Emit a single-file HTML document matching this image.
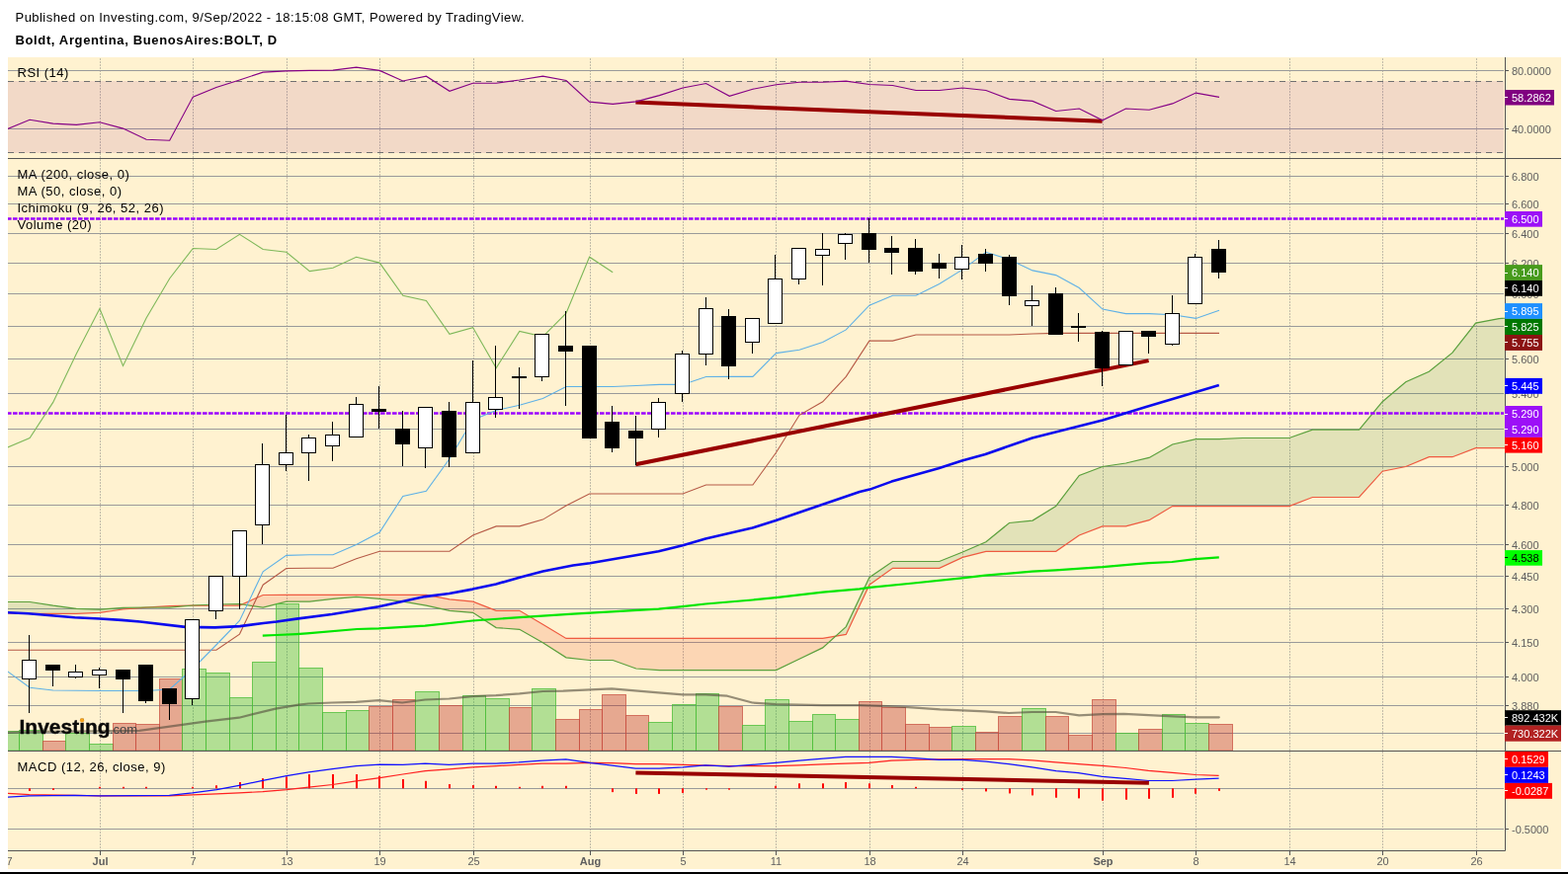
<!DOCTYPE html><html><head><meta charset="utf-8"><title>Boldt, Argentina, BuenosAires:BOLT, D</title>
<style>html,body{margin:0;padding:0;background:#fff;}body{width:1587px;height:885px;overflow:hidden;position:relative;font-family:"Liberation Sans", Arial, sans-serif;}.hdr{position:absolute;left:16px;font-size:13px;color:#000;white-space:nowrap;}svg{position:absolute;left:0;top:0;}</style></head><body>
<svg width="1587" height="885" viewBox="0 0 1587 885" font-family='"Liberation Sans", Arial, sans-serif'>
<defs><clipPath id="cp"><rect x="8" y="58" width="1515" height="803"/></clipPath><clipPath id="cpr"><rect x="8" y="58" width="1515" height="102"/></clipPath><clipPath id="cpp"><rect x="8" y="160" width="1515" height="600"/></clipPath><clipPath id="cpm"><rect x="8" y="760" width="1515" height="101"/></clipPath></defs>
<text x="15.5" y="22" font-size="13" letter-spacing="0.46" fill="#000">Published on Investing.com, 9/Sep/2022 - 18:15:08 GMT, Powered by TradingView.</text>
<text x="15.5" y="45" font-size="13" font-weight="bold" letter-spacing="0.63" fill="#000">Boldt, Argentina, BuenosAires:BOLT, D</text>
<rect x="8" y="58" width="1572" height="822" fill="#fff2d0"/>
<rect x="0" y="883" width="1587" height="2" fill="#000"/>
<path d="M101.5 59V861 M195.5 59V861 M290.5 59V861 M384.5 59V861 M479.5 59V861 M597.5 59V861 M691.5 59V861 M785.5 59V861 M880.5 59V861 M974.5 59V861 M1116.5 59V861 M1210.5 59V861 M1305.5 59V861 M1399.5 59V861 M1494.5 59V861" stroke="rgba(120,120,120,0.45)" stroke-width="1" stroke-dasharray="2 1" fill="none"/>
<path d="M8 71.5H1522 M8 130.5H1522 M8 178.5H1522 M8 206.5H1522 M8 236.5H1522 M8 266.5H1522 M8 297.5H1522 M8 330.5H1522 M8 363.5H1522 M8 398.5H1522 M8 434.5H1522 M8 472.5H1522 M8 511.5H1522 M8 551.5H1522 M8 583.5H1522 M8 616.5H1522 M8 650.5H1522 M8 685.5H1522 M8 714.5H1522 M8 742.5H1522 M8 798.5H1522 M8 839.5H1522" stroke="#9a9a9a" stroke-width="1" fill="none"/>
<rect x="8" y="82" width="1514" height="73" fill="rgba(128,0,128,0.1)"/>
<path d="M8 82.5H1522 M8 154.5H1522" stroke="#707070" stroke-width="1" stroke-dasharray="6 5" fill="none"/>
<g clip-path="url(#cpp)">
<polygon points="6.5,609.5 30.1,609.5 53.7,613.2 77.3,616.3 100.9,617.2 124.5,615.3 148.1,615.0 149.5,615.0 149.5,615.0 148.1,615.1 124.5,617.0 100.9,620.3 77.3,621.3 53.7,621.3 30.1,621.3 6.5,621.0" fill="rgba(62,135,48,0.15)"/>
<polygon points="149.5,615.0 171.7,615.2 193.9,613.1 193.9,613.1 171.7,613.6 149.5,615.0" fill="rgba(235,55,21,0.15)"/>
<polygon points="193.9,613.1 195.3,613.0 218.9,612.0 242.5,611.5 245.2,611.9 245.2,611.9 242.5,613.1 218.9,613.1 195.3,613.1 193.9,613.1" fill="rgba(62,135,48,0.15)"/>
<polygon points="245.2,611.9 266.2,615.2 289.8,609.2 313.4,609.2 337.0,606.4 360.6,604.4 384.2,606.4 407.8,609.2 431.4,613.2 455.0,618.3 478.6,620.3 502.2,635.6 525.8,637.3 549.4,650.8 573.0,665.8 596.6,668.5 620.2,668.5 643.8,677.0 667.4,678.6 691.0,678.6 714.6,678.6 738.3,678.6 761.9,678.6 785.5,678.6 809.1,667.3 832.7,655.9 845.6,644.2 845.6,644.2 832.7,646.4 809.1,646.4 785.5,646.4 761.9,646.4 738.3,646.4 714.6,646.4 691.0,646.4 667.4,646.4 643.8,646.4 620.2,646.4 596.6,646.4 573.0,646.4 549.4,632.2 525.8,618.3 502.2,618.3 478.6,609.2 455.0,606.8 431.4,602.4 407.8,602.4 384.2,602.4 360.6,602.4 337.0,602.4 313.4,602.4 289.8,602.4 266.2,602.5 245.2,611.9" fill="rgba(235,55,21,0.15)"/>
<polygon points="845.6,644.2 856.3,634.6 879.9,584.7 903.5,568.5 927.1,568.5 950.7,568.5 974.3,559.0 997.9,548.8 1021.5,529.5 1045.1,527.1 1068.7,512.5 1092.3,481.4 1115.9,472.5 1139.5,469.0 1163.1,463.4 1186.7,450.0 1210.4,444.6 1234.0,444.6 1257.6,443.5 1281.2,443.5 1304.8,443.5 1328.4,435.2 1352.0,435.2 1375.6,435.2 1399.2,406.7 1422.8,386.8 1446.4,376.3 1470.0,357.1 1493.6,327.1 1517.2,322.6 1540.8,320.5 1540.8,453.7 1517.2,453.7 1493.6,453.7 1470.0,462.7 1446.4,462.7 1422.8,472.5 1399.2,477.2 1375.6,503.5 1352.0,503.5 1328.4,503.5 1304.8,512.6 1281.2,512.6 1257.6,512.6 1234.0,512.6 1210.4,512.6 1186.7,512.6 1163.1,526.7 1139.5,532.9 1115.9,532.9 1092.3,542.0 1068.7,558.3 1045.1,558.3 1021.5,558.3 997.9,558.3 974.3,564.4 950.7,575.3 927.1,575.3 903.5,575.3 879.9,592.2 856.3,642.4 845.6,644.2" fill="rgba(62,135,48,0.15)"/>
<polyline points="6.5,621.0 30.1,621.3 53.7,621.3 77.3,621.3 100.9,620.3 124.5,617.0 148.1,615.1 171.7,613.6 195.3,613.1 218.9,613.1 242.5,613.1 266.2,602.5 289.8,602.4 313.4,602.4 337.0,602.4 360.6,602.4 384.2,602.4 407.8,602.4 431.4,602.4 455.0,606.8 478.6,609.2 502.2,618.3 525.8,618.3 549.4,632.2 573.0,646.4 596.6,646.4 620.2,646.4 643.8,646.4 667.4,646.4 691.0,646.4 714.6,646.4 738.3,646.4 761.9,646.4 785.5,646.4 809.1,646.4 832.7,646.4 856.3,642.4 879.9,592.2 903.5,575.3 927.1,575.3 950.7,575.3 974.3,564.4 997.9,558.3 1021.5,558.3 1045.1,558.3 1068.7,558.3 1092.3,542.0 1115.9,532.9 1139.5,532.9 1163.1,526.7 1186.7,512.6 1210.4,512.6 1234.0,512.6 1257.6,512.6 1281.2,512.6 1304.8,512.6 1328.4,503.5 1352.0,503.5 1375.6,503.5 1399.2,477.2 1422.8,472.5 1446.4,462.7 1470.0,462.7 1493.6,453.7 1517.2,453.7 1540.8,453.7" fill="none" stroke="#ef5a40" stroke-width="1.2"/>
<polyline points="6.5,609.5 30.1,609.5 53.7,613.2 77.3,616.3 100.9,617.2 124.5,615.3 148.1,615.0 171.7,615.2 195.3,613.0 218.9,612.0 242.5,611.5 266.2,615.2 289.8,609.2 313.4,609.2 337.0,606.4 360.6,604.4 384.2,606.4 407.8,609.2 431.4,613.2 455.0,618.3 478.6,620.3 502.2,635.6 525.8,637.3 549.4,650.8 573.0,665.8 596.6,668.5 620.2,668.5 643.8,677.0 667.4,678.6 691.0,678.6 714.6,678.6 738.3,678.6 761.9,678.6 785.5,678.6 809.1,667.3 832.7,655.9 856.3,634.6 879.9,584.7 903.5,568.5 927.1,568.5 950.7,568.5 974.3,559.0 997.9,548.8 1021.5,529.5 1045.1,527.1 1068.7,512.5 1092.3,481.4 1115.9,472.5 1139.5,469.0 1163.1,463.4 1186.7,450.0 1210.4,444.6 1234.0,444.6 1257.6,443.5 1281.2,443.5 1304.8,443.5 1328.4,435.2 1352.0,435.2 1375.6,435.2 1399.2,406.7 1422.8,386.8 1446.4,376.3 1470.0,357.1 1493.6,327.1 1517.2,322.6 1540.8,320.5" fill="none" stroke="#5aa03c" stroke-width="1.2"/>
</g>
<g clip-path="url(#cpp)">
<rect x="-4.5" y="740.5" width="24.0" height="19.5" fill="rgba(35,188,37,0.35)" stroke="rgba(80,190,60,0.8)" stroke-width="1"/>
<rect x="19.5" y="739.5" width="24.0" height="20.5" fill="rgba(35,188,37,0.35)" stroke="rgba(80,190,60,0.8)" stroke-width="1"/>
<rect x="43.5" y="750.5" width="23.0" height="9.5" fill="rgba(184,31,25,0.35)" stroke="rgba(200,80,65,0.75)" stroke-width="1"/>
<rect x="66.5" y="742.5" width="24.0" height="17.5" fill="rgba(35,188,37,0.35)" stroke="rgba(80,190,60,0.8)" stroke-width="1"/>
<rect x="90.5" y="753.5" width="24.0" height="6.5" fill="rgba(35,188,37,0.35)" stroke="rgba(80,190,60,0.8)" stroke-width="1"/>
<rect x="114.5" y="732.5" width="23.0" height="27.5" fill="rgba(184,31,25,0.35)" stroke="rgba(200,80,65,0.75)" stroke-width="1"/>
<rect x="137.5" y="733.5" width="24.0" height="26.5" fill="rgba(184,31,25,0.35)" stroke="rgba(200,80,65,0.75)" stroke-width="1"/>
<rect x="161.5" y="687.5" width="23.0" height="72.5" fill="rgba(184,31,25,0.35)" stroke="rgba(200,80,65,0.75)" stroke-width="1"/>
<rect x="184.5" y="677.5" width="24.0" height="82.5" fill="rgba(35,188,37,0.35)" stroke="rgba(80,190,60,0.8)" stroke-width="1"/>
<rect x="208.5" y="681.5" width="24.0" height="78.5" fill="rgba(35,188,37,0.35)" stroke="rgba(80,190,60,0.8)" stroke-width="1"/>
<rect x="232.5" y="706.5" width="23.0" height="53.5" fill="rgba(35,188,37,0.35)" stroke="rgba(80,190,60,0.8)" stroke-width="1"/>
<rect x="255.5" y="670.5" width="24.0" height="89.5" fill="rgba(35,188,37,0.35)" stroke="rgba(80,190,60,0.8)" stroke-width="1"/>
<rect x="279.5" y="611.5" width="23.0" height="148.5" fill="rgba(35,188,37,0.35)" stroke="rgba(80,190,60,0.8)" stroke-width="1"/>
<rect x="302.5" y="676.5" width="24.0" height="83.5" fill="rgba(35,188,37,0.35)" stroke="rgba(80,190,60,0.8)" stroke-width="1"/>
<rect x="326.5" y="721.5" width="24.0" height="38.5" fill="rgba(35,188,37,0.35)" stroke="rgba(80,190,60,0.8)" stroke-width="1"/>
<rect x="350.5" y="719.5" width="23.0" height="40.5" fill="rgba(35,188,37,0.35)" stroke="rgba(80,190,60,0.8)" stroke-width="1"/>
<rect x="373.5" y="715.5" width="24.0" height="44.5" fill="rgba(184,31,25,0.35)" stroke="rgba(200,80,65,0.75)" stroke-width="1"/>
<rect x="397.5" y="708.5" width="23.0" height="51.5" fill="rgba(184,31,25,0.35)" stroke="rgba(200,80,65,0.75)" stroke-width="1"/>
<rect x="420.5" y="700.5" width="24.0" height="59.5" fill="rgba(35,188,37,0.35)" stroke="rgba(80,190,60,0.8)" stroke-width="1"/>
<rect x="444.5" y="714.5" width="24.0" height="45.5" fill="rgba(184,31,25,0.35)" stroke="rgba(200,80,65,0.75)" stroke-width="1"/>
<rect x="468.5" y="704.5" width="23.0" height="55.5" fill="rgba(35,188,37,0.35)" stroke="rgba(80,190,60,0.8)" stroke-width="1"/>
<rect x="491.5" y="707.5" width="24.0" height="52.5" fill="rgba(35,188,37,0.35)" stroke="rgba(80,190,60,0.8)" stroke-width="1"/>
<rect x="515.5" y="716.5" width="23.0" height="43.5" fill="rgba(184,31,25,0.35)" stroke="rgba(200,80,65,0.75)" stroke-width="1"/>
<rect x="538.5" y="697.5" width="24.0" height="62.5" fill="rgba(35,188,37,0.35)" stroke="rgba(80,190,60,0.8)" stroke-width="1"/>
<rect x="562.5" y="728.5" width="24.0" height="31.5" fill="rgba(184,31,25,0.35)" stroke="rgba(200,80,65,0.75)" stroke-width="1"/>
<rect x="586.5" y="718.5" width="23.0" height="41.5" fill="rgba(184,31,25,0.35)" stroke="rgba(200,80,65,0.75)" stroke-width="1"/>
<rect x="609.5" y="703.5" width="24.0" height="56.5" fill="rgba(184,31,25,0.35)" stroke="rgba(200,80,65,0.75)" stroke-width="1"/>
<rect x="633.5" y="724.5" width="23.0" height="35.5" fill="rgba(184,31,25,0.35)" stroke="rgba(200,80,65,0.75)" stroke-width="1"/>
<rect x="656.5" y="731.5" width="24.0" height="28.5" fill="rgba(35,188,37,0.35)" stroke="rgba(80,190,60,0.8)" stroke-width="1"/>
<rect x="680.5" y="713.5" width="24.0" height="46.5" fill="rgba(35,188,37,0.35)" stroke="rgba(80,190,60,0.8)" stroke-width="1"/>
<rect x="704.5" y="702.5" width="23.0" height="57.5" fill="rgba(35,188,37,0.35)" stroke="rgba(80,190,60,0.8)" stroke-width="1"/>
<rect x="727.5" y="715.5" width="24.0" height="44.5" fill="rgba(184,31,25,0.35)" stroke="rgba(200,80,65,0.75)" stroke-width="1"/>
<rect x="751.5" y="734.5" width="23.0" height="25.5" fill="rgba(35,188,37,0.35)" stroke="rgba(80,190,60,0.8)" stroke-width="1"/>
<rect x="774.5" y="708.5" width="24.0" height="51.5" fill="rgba(35,188,37,0.35)" stroke="rgba(80,190,60,0.8)" stroke-width="1"/>
<rect x="798.5" y="730.5" width="24.0" height="29.5" fill="rgba(35,188,37,0.35)" stroke="rgba(80,190,60,0.8)" stroke-width="1"/>
<rect x="822.5" y="723.5" width="23.0" height="36.5" fill="rgba(35,188,37,0.35)" stroke="rgba(80,190,60,0.8)" stroke-width="1"/>
<rect x="845.5" y="728.5" width="24.0" height="31.5" fill="rgba(35,188,37,0.35)" stroke="rgba(80,190,60,0.8)" stroke-width="1"/>
<rect x="869.5" y="710.5" width="23.0" height="49.5" fill="rgba(184,31,25,0.35)" stroke="rgba(200,80,65,0.75)" stroke-width="1"/>
<rect x="892.5" y="716.5" width="24.0" height="43.5" fill="rgba(184,31,25,0.35)" stroke="rgba(200,80,65,0.75)" stroke-width="1"/>
<rect x="916.5" y="733.5" width="24.0" height="26.5" fill="rgba(184,31,25,0.35)" stroke="rgba(200,80,65,0.75)" stroke-width="1"/>
<rect x="940.5" y="736.5" width="23.0" height="23.5" fill="rgba(184,31,25,0.35)" stroke="rgba(200,80,65,0.75)" stroke-width="1"/>
<rect x="963.5" y="735.5" width="24.0" height="24.5" fill="rgba(35,188,37,0.35)" stroke="rgba(80,190,60,0.8)" stroke-width="1"/>
<rect x="987.5" y="741.5" width="23.0" height="18.5" fill="rgba(184,31,25,0.35)" stroke="rgba(200,80,65,0.75)" stroke-width="1"/>
<rect x="1010.5" y="725.5" width="24.0" height="34.5" fill="rgba(184,31,25,0.35)" stroke="rgba(200,80,65,0.75)" stroke-width="1"/>
<rect x="1034.5" y="717.5" width="24.0" height="42.5" fill="rgba(35,188,37,0.35)" stroke="rgba(80,190,60,0.8)" stroke-width="1"/>
<rect x="1058.5" y="725.5" width="23.0" height="34.5" fill="rgba(184,31,25,0.35)" stroke="rgba(200,80,65,0.75)" stroke-width="1"/>
<rect x="1081.5" y="744.5" width="24.0" height="15.5" fill="rgba(184,31,25,0.35)" stroke="rgba(200,80,65,0.75)" stroke-width="1"/>
<rect x="1105.5" y="708.5" width="24.0" height="51.5" fill="rgba(184,31,25,0.35)" stroke="rgba(200,80,65,0.75)" stroke-width="1"/>
<rect x="1129.5" y="742.5" width="23.0" height="17.5" fill="rgba(35,188,37,0.35)" stroke="rgba(80,190,60,0.8)" stroke-width="1"/>
<rect x="1152.5" y="738.5" width="24.0" height="21.5" fill="rgba(184,31,25,0.35)" stroke="rgba(200,80,65,0.75)" stroke-width="1"/>
<rect x="1176.5" y="723.5" width="23.0" height="36.5" fill="rgba(35,188,37,0.35)" stroke="rgba(80,190,60,0.8)" stroke-width="1"/>
<rect x="1199.5" y="732.5" width="24.0" height="27.5" fill="rgba(35,188,37,0.35)" stroke="rgba(80,190,60,0.8)" stroke-width="1"/>
<rect x="1223.5" y="733.5" width="24.0" height="26.5" fill="rgba(184,31,25,0.35)" stroke="rgba(200,80,65,0.75)" stroke-width="1"/>
<polyline points="6.0,741.9 42.0,740.8 100.0,740.4 141.1,739.8 184.5,733.8 207.7,730.7 241.9,726.7 278.8,717.6 302.4,713.6 312.2,712.5 335.9,711.5 360.3,710.8 383.4,709.2 407.1,711.5 430.2,708.5 454.6,707.5 478.3,705.1 502.0,704.1 525.8,702.4 549.5,700.0 570.0,699.7 619.2,697.3 666.6,701.4 691.0,703.4 714.1,703.4 736.1,704.7 761.5,711.5 785.3,713.2 832.7,714.2 870.0,714.2 892.2,714.9 915.9,715.9 951.5,718.3 997.3,720.3 1021.0,722.0 1044.7,721.0 1068.5,721.0 1092.2,724.4 1116.1,723.1 1137.6,722.9 1162.6,724.2 1187.5,725.4 1210.2,726.3 1233.8,726.3" fill="none" stroke="rgba(80,74,58,0.6)" stroke-width="2.2" stroke-linejoin="round" stroke-linecap="round"/>
</g>
<g clip-path="url(#cpp)"><path d="M7 221.5H1522 M7 418.5H1522" stroke="#9a00ff" stroke-width="2.6" stroke-dasharray="4.6 1.4" fill="none"/></g>
<g clip-path="url(#cpp)">
<polyline points="6.5,453.6 30.1,443.5 53.7,407.4 77.3,358.3 100.9,312.5 124.5,370.5 148.1,322.0 171.7,282.0 195.3,251.5 218.9,252.5 242.5,237.3 266.2,252.5 289.8,255.3 313.4,274.6 337.0,271.2 360.6,260.3 384.2,266.1 407.8,299.3 431.4,304.4 455.0,338.3 478.6,331.6 502.2,372.6 525.8,335.4 549.4,340.8 573.0,317.2 596.6,260.2 620.2,275.8" fill="none" stroke="#7fb85a" stroke-width="1.1"/>
<polyline points="6.5,658.3 30.1,658.3 53.7,658.3 77.3,658.3 100.9,658.3 124.5,658.3 148.1,658.3 171.7,658.3 195.3,658.3 218.9,658.3 242.5,642.1 266.2,592.2 289.8,575.5 313.4,575.3 337.0,575.3 360.6,565.8 384.2,558.3 407.8,558.3 431.4,558.3 455.0,558.3 478.6,542.0 502.2,532.9 525.8,532.9 549.4,526.1 573.0,512.0 596.6,500.0 620.2,500.0 643.8,500.0 667.4,500.0 691.0,500.0 714.6,491.0 738.3,491.0 761.9,491.0 785.5,458.3 809.1,420.3 832.7,406.8 856.3,381.4 879.9,345.1 903.5,345.1 927.1,339.0 950.7,339.0 974.3,339.0 997.9,339.0 1021.5,339.0 1045.1,338.0 1068.7,337.4 1092.3,337.4 1115.9,337.4 1139.5,337.4 1163.1,337.4 1186.7,337.4 1210.4,337.4 1234.0,337.4" fill="none" stroke="#b65a46" stroke-width="1.1"/>
<polyline points="6.5,679.0 30.1,696.3 53.7,699.0 77.3,699.3 100.9,699.5 124.5,699.5 148.1,699.5 171.7,698.0 195.3,677.0 218.9,653.0 242.5,628.5 266.2,578.8 289.8,562.4 313.4,561.7 337.0,561.7 360.6,551.5 384.2,539.0 407.8,502.4 431.4,497.3 455.0,464.5 478.6,425.3 502.2,415.5 525.8,410.2 549.4,403.5 573.0,391.5 596.6,391.5 620.2,391.5 643.8,390.5 667.4,389.4 691.0,389.4 714.6,381.5 738.3,381.4 761.9,381.4 785.5,357.6 809.1,354.2 832.7,346.4 856.3,333.9 879.9,309.2 903.5,299.3 927.1,299.3 950.7,287.5 974.3,272.9 997.9,255.3 1021.5,262.7 1045.1,273.9 1068.7,278.6 1092.3,291.5 1115.9,313.1 1139.5,317.6 1163.1,317.6 1186.7,318.8 1210.4,322.4 1234.0,314.2" fill="none" stroke="#5fb1e6" stroke-width="1.1"/>
<polyline points="265.8,643.6 280.0,643.0 300.0,642.1 310.5,641.4 361.4,637.0 383.4,636.3 430.2,633.6 478.3,628.5 525.8,625.1 580.0,621.7 619.2,619.3 666.6,616.6 691.0,614.2 714.1,611.5 761.5,607.5 785.3,605.1 832.7,599.7 870.0,596.3 880.3,594.9 924.4,590.5 973.6,585.4 997.3,582.7 1044.7,578.6 1068.5,577.3 1115.9,574.2 1150.0,571.2 1162.7,570.1 1186.2,569.0 1209.7,566.1 1233.8,564.3" fill="none" stroke="#00e600" stroke-width="2.2" stroke-linejoin="round"/>
<polyline points="6.0,620.2 28.4,621.3 75.6,625.3 101.1,626.5 122.9,627.9 141.8,629.5 187.5,634.9 217.5,635.4 242.8,634.1 266.6,631.0 280.0,629.5 300.0,626.6 335.9,622.0 383.4,614.2 430.2,604.1 454.6,601.0 478.3,596.6 502.0,591.5 525.8,584.7 549.5,578.6 580.0,572.5 597.1,570.2 666.6,558.3 691.0,552.2 714.1,545.4 761.5,534.6 785.3,527.1 832.7,510.8 870.0,498.0 880.3,495.6 902.4,487.6 949.8,474.2 973.6,466.5 997.3,460.0 1044.7,443.4 1115.9,425.4 1160.0,411.9 1233.8,390.0" fill="none" stroke="#0a0aee" stroke-width="2.6" stroke-linejoin="round"/>
</g>
<line x1="643.3" y1="470.3" x2="1162.6" y2="365.1" stroke="#990000" stroke-width="4"/>
<g shape-rendering="crispEdges">
<rect x="29" y="643" width="1" height="79" fill="#000"/>
<rect x="22" y="668" width="15" height="20" fill="#000"/>
<rect x="23" y="669" width="13" height="18" fill="#fff"/>
<rect x="53" y="673" width="1" height="22" fill="#000"/>
<rect x="46" y="673" width="15" height="6" fill="#000"/>
<rect x="76" y="673" width="1" height="14" fill="#000"/>
<rect x="69" y="680" width="15" height="6" fill="#000"/>
<rect x="70" y="681" width="13" height="4" fill="#fff"/>
<rect x="100" y="676" width="1" height="21" fill="#000"/>
<rect x="93" y="678" width="15" height="6" fill="#000"/>
<rect x="94" y="679" width="13" height="4" fill="#fff"/>
<rect x="124" y="678" width="1" height="44" fill="#000"/>
<rect x="117" y="678" width="15" height="10" fill="#000"/>
<rect x="147" y="673" width="1" height="39" fill="#000"/>
<rect x="140" y="673" width="15" height="37" fill="#000"/>
<rect x="171" y="697" width="1" height="32" fill="#000"/>
<rect x="164" y="697" width="15" height="16" fill="#000"/>
<rect x="194" y="627" width="1" height="87" fill="#000"/>
<rect x="187" y="627" width="15" height="81" fill="#000"/>
<rect x="188" y="628" width="13" height="79" fill="#fff"/>
<rect x="218" y="583" width="1" height="44" fill="#000"/>
<rect x="211" y="583" width="15" height="36" fill="#000"/>
<rect x="212" y="584" width="13" height="34" fill="#fff"/>
<rect x="242" y="537" width="1" height="80" fill="#000"/>
<rect x="235" y="537" width="15" height="47" fill="#000"/>
<rect x="236" y="538" width="13" height="45" fill="#fff"/>
<rect x="265" y="449" width="1" height="102" fill="#000"/>
<rect x="258" y="470" width="15" height="62" fill="#000"/>
<rect x="259" y="471" width="13" height="60" fill="#fff"/>
<rect x="289" y="420" width="1" height="57" fill="#000"/>
<rect x="282" y="458" width="15" height="13" fill="#000"/>
<rect x="283" y="459" width="13" height="11" fill="#fff"/>
<rect x="312" y="440" width="1" height="47" fill="#000"/>
<rect x="305" y="443" width="15" height="16" fill="#000"/>
<rect x="306" y="444" width="13" height="14" fill="#fff"/>
<rect x="336" y="427" width="1" height="40" fill="#000"/>
<rect x="329" y="440" width="15" height="12" fill="#000"/>
<rect x="330" y="441" width="13" height="10" fill="#fff"/>
<rect x="360" y="402" width="1" height="41" fill="#000"/>
<rect x="353" y="409" width="15" height="34" fill="#000"/>
<rect x="354" y="410" width="13" height="32" fill="#fff"/>
<rect x="383" y="391" width="1" height="43" fill="#000"/>
<rect x="376" y="414" width="15" height="3" fill="#000"/>
<rect x="407" y="416" width="1" height="56" fill="#000"/>
<rect x="400" y="434" width="15" height="16" fill="#000"/>
<rect x="430" y="412" width="1" height="62" fill="#000"/>
<rect x="423" y="412" width="15" height="42" fill="#000"/>
<rect x="424" y="413" width="13" height="40" fill="#fff"/>
<rect x="454" y="407" width="1" height="66" fill="#000"/>
<rect x="447" y="416" width="15" height="47" fill="#000"/>
<rect x="478" y="365" width="1" height="94" fill="#000"/>
<rect x="471" y="407" width="15" height="52" fill="#000"/>
<rect x="472" y="408" width="13" height="50" fill="#fff"/>
<rect x="501" y="350" width="1" height="73" fill="#000"/>
<rect x="494" y="402" width="15" height="13" fill="#000"/>
<rect x="495" y="403" width="13" height="11" fill="#fff"/>
<rect x="525" y="372" width="1" height="42" fill="#000"/>
<rect x="518" y="381" width="15" height="2" fill="#000"/>
<rect x="548" y="338" width="1" height="48" fill="#000"/>
<rect x="541" y="338" width="15" height="44" fill="#000"/>
<rect x="542" y="339" width="13" height="42" fill="#fff"/>
<rect x="572" y="315" width="1" height="96" fill="#000"/>
<rect x="565" y="350" width="15" height="6" fill="#000"/>
<rect x="596" y="350" width="1" height="94" fill="#000"/>
<rect x="589" y="350" width="15" height="94" fill="#000"/>
<rect x="619" y="411" width="1" height="47" fill="#000"/>
<rect x="612" y="427" width="15" height="27" fill="#000"/>
<rect x="643" y="421" width="1" height="50" fill="#000"/>
<rect x="636" y="436" width="15" height="8" fill="#000"/>
<rect x="666" y="403" width="1" height="40" fill="#000"/>
<rect x="659" y="407" width="15" height="28" fill="#000"/>
<rect x="660" y="408" width="13" height="26" fill="#fff"/>
<rect x="690" y="355" width="1" height="52" fill="#000"/>
<rect x="683" y="358" width="15" height="41" fill="#000"/>
<rect x="684" y="359" width="13" height="39" fill="#fff"/>
<rect x="714" y="301" width="1" height="69" fill="#000"/>
<rect x="707" y="312" width="15" height="47" fill="#000"/>
<rect x="708" y="313" width="13" height="45" fill="#fff"/>
<rect x="737" y="313" width="1" height="71" fill="#000"/>
<rect x="730" y="320" width="15" height="51" fill="#000"/>
<rect x="761" y="322" width="1" height="36" fill="#000"/>
<rect x="754" y="322" width="15" height="25" fill="#000"/>
<rect x="755" y="323" width="13" height="23" fill="#fff"/>
<rect x="784" y="258" width="1" height="70" fill="#000"/>
<rect x="777" y="282" width="15" height="46" fill="#000"/>
<rect x="778" y="283" width="13" height="44" fill="#fff"/>
<rect x="808" y="251" width="1" height="37" fill="#000"/>
<rect x="801" y="251" width="15" height="32" fill="#000"/>
<rect x="802" y="252" width="13" height="30" fill="#fff"/>
<rect x="832" y="236" width="1" height="53" fill="#000"/>
<rect x="825" y="252" width="15" height="7" fill="#000"/>
<rect x="826" y="253" width="13" height="5" fill="#fff"/>
<rect x="855" y="236" width="1" height="27" fill="#000"/>
<rect x="848" y="237" width="15" height="10" fill="#000"/>
<rect x="849" y="238" width="13" height="8" fill="#fff"/>
<rect x="879" y="221" width="1" height="45" fill="#000"/>
<rect x="872" y="236" width="15" height="17" fill="#000"/>
<rect x="902" y="239" width="1" height="39" fill="#000"/>
<rect x="895" y="251" width="15" height="5" fill="#000"/>
<rect x="926" y="242" width="1" height="36" fill="#000"/>
<rect x="919" y="251" width="15" height="24" fill="#000"/>
<rect x="950" y="257" width="1" height="25" fill="#000"/>
<rect x="943" y="266" width="15" height="6" fill="#000"/>
<rect x="973" y="248" width="1" height="35" fill="#000"/>
<rect x="966" y="260" width="15" height="13" fill="#000"/>
<rect x="967" y="261" width="13" height="11" fill="#fff"/>
<rect x="997" y="252" width="1" height="23" fill="#000"/>
<rect x="990" y="257" width="15" height="10" fill="#000"/>
<rect x="1021" y="258" width="1" height="51" fill="#000"/>
<rect x="1014" y="260" width="15" height="40" fill="#000"/>
<rect x="1044" y="289" width="1" height="41" fill="#000"/>
<rect x="1037" y="304" width="15" height="6" fill="#000"/>
<rect x="1038" y="305" width="13" height="4" fill="#fff"/>
<rect x="1068" y="291" width="1" height="48" fill="#000"/>
<rect x="1061" y="297" width="15" height="42" fill="#000"/>
<rect x="1091" y="317" width="1" height="29" fill="#000"/>
<rect x="1084" y="330" width="15" height="2" fill="#000"/>
<rect x="1115" y="335" width="1" height="56" fill="#000"/>
<rect x="1108" y="336" width="15" height="37" fill="#000"/>
<rect x="1139" y="335" width="1" height="35" fill="#000"/>
<rect x="1132" y="335" width="15" height="35" fill="#000"/>
<rect x="1133" y="336" width="13" height="33" fill="#fff"/>
<rect x="1162" y="335" width="1" height="23" fill="#000"/>
<rect x="1155" y="335" width="15" height="6" fill="#000"/>
<rect x="1186" y="299" width="1" height="51" fill="#000"/>
<rect x="1179" y="317" width="15" height="32" fill="#000"/>
<rect x="1180" y="318" width="13" height="30" fill="#fff"/>
<rect x="1209" y="257" width="1" height="51" fill="#000"/>
<rect x="1202" y="260" width="15" height="48" fill="#000"/>
<rect x="1203" y="261" width="13" height="46" fill="#fff"/>
<rect x="1233" y="243" width="1" height="39" fill="#000"/>
<rect x="1226" y="252" width="15" height="24" fill="#000"/>
</g>
<text x="19.5" y="743" font-size="21" font-weight="bold" fill="#0a0a0a" stroke="#0a0a0a" stroke-width="0.35">Investing</text>
<text x="111" y="743" font-size="13" fill="#444">.com</text>
<circle cx="83.0" cy="729.3" r="2.1" fill="#f7a21b"/>
<line x1="643.4" y1="103.6" x2="1115.6" y2="122.8" stroke="#990000" stroke-width="4"/>
<g clip-path="url(#cpr)">
<polyline points="6.5,130.9 30.1,121.3 53.7,125.1 77.3,126.3 100.9,123.8 124.5,130.1 148.1,141.2 171.7,142.2 195.3,98.1 218.9,88.5 242.5,81.0 266.2,73.1 289.8,71.9 313.4,71.4 337.0,71.1 360.6,68.1 384.2,71.4 407.8,82.0 431.4,77.2 455.0,92.3 478.6,84.2 502.2,84.2 525.8,81.0 549.4,77.2 573.0,81.5 596.6,103.1 620.2,105.4 643.8,102.9 667.4,96.6 691.0,89.0 714.6,84.5 738.3,97.3 761.9,90.3 785.5,85.7 809.1,83.2 832.7,83.2 856.3,82.2 879.9,85.5 903.5,86.5 927.1,91.5 950.7,91.5 974.3,89.0 997.9,91.5 1021.5,100.4 1045.1,102.4 1068.7,112.5 1092.3,110.0 1115.9,121.8 1139.5,110.0 1163.1,111.2 1186.7,104.9 1210.4,94.1 1234.0,98.4" fill="none" stroke="#850085" stroke-width="1.15"/>
</g>
<g clip-path="url(#cpm)">
<rect x="29" y="798.3" width="2" height="2.7" fill="#ff0000"/><rect x="53" y="798.3" width="2" height="1.7" fill="#ff0000"/><rect x="100" y="796.8" width="2" height="1.5" fill="#ff0000"/><rect x="124" y="796.8" width="2" height="1.5" fill="#ff0000"/><rect x="147" y="796.8" width="2" height="1.5" fill="#ff0000"/><rect x="194" y="796.8" width="2" height="1.5" fill="#ff0000"/><rect x="218" y="795.3" width="2" height="3.0" fill="#ff0000"/><rect x="242" y="792.0" width="2" height="6.3" fill="#ff0000"/><rect x="265" y="788.2" width="2" height="10.1" fill="#ff0000"/><rect x="289" y="786.5" width="2" height="11.8" fill="#ff0000"/><rect x="312" y="784.0" width="2" height="14.3" fill="#ff0000"/><rect x="336" y="784.0" width="2" height="14.3" fill="#ff0000"/><rect x="360" y="784.0" width="2" height="14.3" fill="#ff0000"/><rect x="383" y="785.7" width="2" height="12.6" fill="#ff0000"/><rect x="407" y="789.0" width="2" height="9.3" fill="#ff0000"/><rect x="430" y="790.8" width="2" height="7.5" fill="#ff0000"/><rect x="454" y="794.0" width="2" height="4.3" fill="#ff0000"/><rect x="478" y="795.0" width="2" height="3.3" fill="#ff0000"/><rect x="501" y="795.8" width="2" height="2.5" fill="#ff0000"/><rect x="525" y="796.8" width="2" height="1.5" fill="#ff0000"/><rect x="548" y="795.8" width="2" height="2.5" fill="#ff0000"/><rect x="572" y="795.8" width="2" height="2.5" fill="#ff0000"/><rect x="619" y="798.3" width="2" height="3.8" fill="#ff0000"/><rect x="643" y="798.3" width="2" height="5.6" fill="#ff0000"/><rect x="666" y="798.3" width="2" height="5.6" fill="#ff0000"/><rect x="690" y="798.3" width="2" height="4.6" fill="#ff0000"/><rect x="714" y="798.3" width="2" height="1.3" fill="#ff0000"/><rect x="737" y="798.3" width="2" height="1.3" fill="#ff0000"/><rect x="784" y="795.8" width="2" height="2.5" fill="#ff0000"/><rect x="808" y="793.3" width="2" height="5.0" fill="#ff0000"/><rect x="832" y="793.3" width="2" height="5.0" fill="#ff0000"/><rect x="855" y="792.0" width="2" height="6.3" fill="#ff0000"/><rect x="879" y="793.3" width="2" height="5.0" fill="#ff0000"/><rect x="902" y="795.0" width="2" height="3.3" fill="#ff0000"/><rect x="926" y="796.8" width="2" height="1.5" fill="#ff0000"/><rect x="973" y="798.3" width="2" height="1.5" fill="#ff0000"/><rect x="997" y="798.3" width="2" height="3.1" fill="#ff0000"/><rect x="1021" y="798.3" width="2" height="5.1" fill="#ff0000"/><rect x="1044" y="798.3" width="2" height="7.1" fill="#ff0000"/><rect x="1068" y="798.3" width="2" height="9.4" fill="#ff0000"/><rect x="1091" y="798.3" width="2" height="10.1" fill="#ff0000"/><rect x="1115" y="798.3" width="2" height="12.4" fill="#ff0000"/><rect x="1139" y="798.3" width="2" height="11.4" fill="#ff0000"/><rect x="1162" y="798.3" width="2" height="10.5" fill="#ff0000"/><rect x="1186" y="798.3" width="2" height="9.5" fill="#ff0000"/><rect x="1209" y="798.3" width="2" height="5.4" fill="#ff0000"/><rect x="1233" y="798.3" width="2" height="2.5" fill="#ff0000"/>
<polyline points="6.0,803.3 29.7,804.6 75.6,805.4 100.8,805.9 171.4,805.9 194.6,804.9 219.3,803.9 242.0,802.9 265.9,801.6 289.9,799.6 312.5,797.1 336.5,794.5 360.4,790.8 384.4,787.7 407.7,784.0 430.4,780.7 454.4,778.9 478.3,776.9 502.2,775.6 524.9,774.4 548.4,773.1 572.8,773.1 596.8,772.4 619.4,772.6 643.4,773.6 667.3,773.6 691.3,774.4 714.0,775.1 737.9,775.6 760.6,775.6 785.2,775.6 809.1,774.9 833.1,773.9 855.8,773.1 879.7,772.4 902.4,770.1 926.4,769.3 950.3,768.8 974.2,768.6 998.2,768.6 1020.9,768.6 1044.8,769.8 1068.8,771.9 1091.4,773.6 1115.6,775.4 1139.2,777.5 1162.4,780.4 1186.3,782.3 1210.3,784.5 1233.6,785.3" fill="none" stroke="#ff2020" stroke-width="1.2"/>
<polyline points="6.0,807.2 29.7,805.9 75.6,805.4 100.8,805.9 171.4,805.4 194.6,802.9 219.3,799.6 242.0,795.3 265.9,790.3 289.9,785.7 312.5,781.9 336.5,778.7 360.4,775.6 384.4,774.1 407.7,774.4 430.4,773.1 454.4,774.4 478.3,773.1 502.2,773.1 524.9,771.9 548.4,770.1 572.8,768.8 596.8,772.4 619.4,775.1 643.4,778.2 667.3,778.2 691.3,776.9 714.0,774.9 737.9,776.1 760.6,774.4 785.2,772.4 809.1,770.1 833.1,768.1 855.8,766.3 879.7,766.3 902.4,766.3 926.4,767.6 950.3,769.3 974.2,769.3 998.2,771.1 1020.9,773.6 1044.8,776.9 1068.8,780.7 1091.4,782.7 1115.6,786.4 1139.2,788.4 1162.4,790.5 1186.3,790.5 1210.3,789.1 1233.6,788.2" fill="none" stroke="#1010ff" stroke-width="1.2"/>
</g>
<line x1="643.4" y1="782.4" x2="1162.9" y2="792.7" stroke="#990000" stroke-width="4"/>
<g font-size="13" fill="#000" letter-spacing="0.5">
<text x="17.5" y="78">RSI (14)</text>
<text x="17.5" y="181">MA (200, close, 0)</text>
<text x="17.5" y="198">MA (50, close, 0)</text>
<text x="17.5" y="215">Ichimoku (9, 26, 52, 26)</text>
<text x="17.5" y="232">Volume (20)</text>
<text x="17.5" y="781">MACD (12, 26, close, 9)</text>
</g>
<path d="M1523.5 58V861.5 M8 861.5H1523.5 M8 160.5H1580 M8 760.5H1580" stroke="#555555" stroke-width="1" fill="none"/>
<path d="M1523 71.5H1527 M1523 130.5H1527 M1523 178.5H1527 M1523 206.5H1527 M1523 236.5H1527 M1523 266.5H1527 M1523 297.5H1527 M1523 330.5H1527 M1523 363.5H1527 M1523 398.5H1527 M1523 434.5H1527 M1523 472.5H1527 M1523 511.5H1527 M1523 551.5H1527 M1523 583.5H1527 M1523 616.5H1527 M1523 650.5H1527 M1523 685.5H1527 M1523 714.5H1527 M1523 839.5H1527" stroke="#555555" stroke-width="1"/>
<g font-size="11" fill="#5e5e5e"><text x="1530" y="75.5">80.0000</text><text x="1530" y="134.5">40.0000</text><text x="1530" y="182.5">6.800</text><text x="1530" y="210.5">6.600</text><text x="1530" y="240.5">6.400</text><text x="1530" y="270.5">6.200</text><text x="1530" y="301.5">6.000</text><text x="1530" y="334.5">5.800</text><text x="1530" y="367.5">5.600</text><text x="1530" y="402.5">5.400</text><text x="1530" y="438.5">5.200</text><text x="1530" y="476.5">5.000</text><text x="1530" y="515.5">4.800</text><text x="1530" y="555.5">4.600</text><text x="1530" y="587.5">4.450</text><text x="1530" y="620.5">4.300</text><text x="1530" y="654.5">4.150</text><text x="1530" y="689.5">4.000</text><text x="1530" y="718.5">3.880</text><text x="1530" y="843.5">-0.5000</text></g>
<rect x="1523" y="91.0" width="50.0" height="15.5" fill="#800080"/>
<path d="M1523 98.5H1526" stroke="#fff" stroke-width="1"/>
<text x="1530" y="102.8" font-size="11" fill="#fff">58.2862</text>
<rect x="1523" y="214.0" width="38.0" height="15.7" fill="#9c10f7"/>
<path d="M1523 221.5H1526" stroke="#fff" stroke-width="1"/>
<text x="1530" y="225.8" font-size="11" fill="#fff">6.500</text>
<rect x="1523" y="268.1" width="38.0" height="15.8" fill="#479b1c"/>
<path d="M1523 276.5H1526" stroke="#fff" stroke-width="1"/>
<text x="1530" y="280.0" font-size="11" fill="#fff">6.140</text>
<rect x="1523" y="283.9" width="38.0" height="15.9" fill="#000000"/>
<path d="M1523 291.5H1526" stroke="#fff" stroke-width="1"/>
<text x="1530" y="295.9" font-size="11" fill="#fff">6.140</text>
<rect x="1523" y="307.1" width="38.0" height="15.8" fill="#1e90ff"/>
<path d="M1523 315.5H1526" stroke="#fff" stroke-width="1"/>
<text x="1530" y="319.0" font-size="11" fill="#fff">5.895</text>
<rect x="1523" y="322.9" width="38.0" height="16.1" fill="#007700"/>
<path d="M1523 330.5H1526" stroke="#fff" stroke-width="1"/>
<text x="1530" y="334.9" font-size="11" fill="#fff">5.825</text>
<rect x="1523" y="339.0" width="38.0" height="15.9" fill="#8b1313"/>
<path d="M1523 346.5H1526" stroke="#fff" stroke-width="1"/>
<text x="1530" y="350.9" font-size="11" fill="#fff">5.755</text>
<rect x="1523" y="382.9" width="38.0" height="15.9" fill="#0000ff"/>
<path d="M1523 390.5H1526" stroke="#fff" stroke-width="1"/>
<text x="1530" y="394.9" font-size="11" fill="#fff">5.445</text>
<rect x="1523" y="411.0" width="38.0" height="16.0" fill="#9c10f7"/>
<path d="M1523 419.5H1526" stroke="#fff" stroke-width="1"/>
<text x="1530" y="423.0" font-size="11" fill="#fff">5.290</text>
<rect x="1523" y="427.0" width="38.0" height="15.9" fill="#9c10f7"/>
<path d="M1523 434.5H1526" stroke="#fff" stroke-width="1"/>
<text x="1530" y="438.9" font-size="11" fill="#fff">5.290</text>
<rect x="1523" y="442.9" width="38.0" height="15.7" fill="#ff0000"/>
<path d="M1523 450.5H1526" stroke="#fff" stroke-width="1"/>
<text x="1530" y="454.8" font-size="11" fill="#fff">5.160</text>
<rect x="1523" y="557.1" width="38.0" height="15.6" fill="#00ff00"/>
<path d="M1523 564.5H1526" stroke="#000" stroke-width="1"/>
<text x="1530" y="568.9" font-size="11" fill="#000">4.538</text>
<rect x="1523" y="719.2" width="57.0" height="15.5" fill="#000000"/>
<path d="M1523 726.5H1526" stroke="#fff" stroke-width="1"/>
<text x="1530" y="731.0" font-size="11" fill="#fff">892.432K</text>
<rect x="1523" y="734.7" width="57.0" height="16.0" fill="#b22222"/>
<path d="M1523 742.5H1526" stroke="#fff" stroke-width="1"/>
<text x="1530" y="746.7" font-size="11" fill="#fff">730.322K</text>
<rect x="1523" y="761.0" width="44.0" height="15.8" fill="#ff0000"/>
<path d="M1523 768.5H1526" stroke="#fff" stroke-width="1"/>
<text x="1530" y="772.9" font-size="11" fill="#fff">0.1529</text>
<rect x="1523" y="776.8" width="44.0" height="16.1" fill="#0000ff"/>
<path d="M1523 784.5H1526" stroke="#fff" stroke-width="1"/>
<text x="1530" y="788.8" font-size="11" fill="#fff">0.1243</text>
<rect x="1523" y="792.9" width="48.0" height="15.9" fill="#ff0000"/>
<path d="M1523 800.5H1526" stroke="#fff" stroke-width="1"/>
<text x="1530" y="804.8" font-size="11" fill="#fff">-0.0287</text>
<path d="M101.5 861V866 M195.5 861V866 M290.5 861V866 M384.5 861V866 M479.5 861V866 M597.5 861V866 M691.5 861V866 M785.5 861V866 M880.5 861V866 M974.5 861V866 M1116.5 861V866 M1210.5 861V866 M1305.5 861V866 M1399.5 861V866 M1494.5 861V866" stroke="#555555" stroke-width="1"/>
<defs><clipPath id="cpx"><rect x="8" y="861" width="1572" height="20"/></clipPath></defs>
<g font-size="11" fill="#5e5e5e" clip-path="url(#cpx)"><text x="6.5" y="876" text-anchor="middle">27</text><text x="101.5" y="876" text-anchor="middle" font-weight="bold">Jul</text><text x="195.5" y="876" text-anchor="middle">7</text><text x="290.5" y="876" text-anchor="middle">13</text><text x="384.5" y="876" text-anchor="middle">19</text><text x="479.5" y="876" text-anchor="middle">25</text><text x="597.5" y="876" text-anchor="middle" font-weight="bold">Aug</text><text x="691.5" y="876" text-anchor="middle">5</text><text x="785.5" y="876" text-anchor="middle">11</text><text x="880.5" y="876" text-anchor="middle">18</text><text x="974.5" y="876" text-anchor="middle">24</text><text x="1116.5" y="876" text-anchor="middle" font-weight="bold">Sep</text><text x="1210.5" y="876" text-anchor="middle">8</text><text x="1305.5" y="876" text-anchor="middle">14</text><text x="1399.5" y="876" text-anchor="middle">20</text><text x="1494.5" y="876" text-anchor="middle">26</text></g>
</svg>
</body></html>
